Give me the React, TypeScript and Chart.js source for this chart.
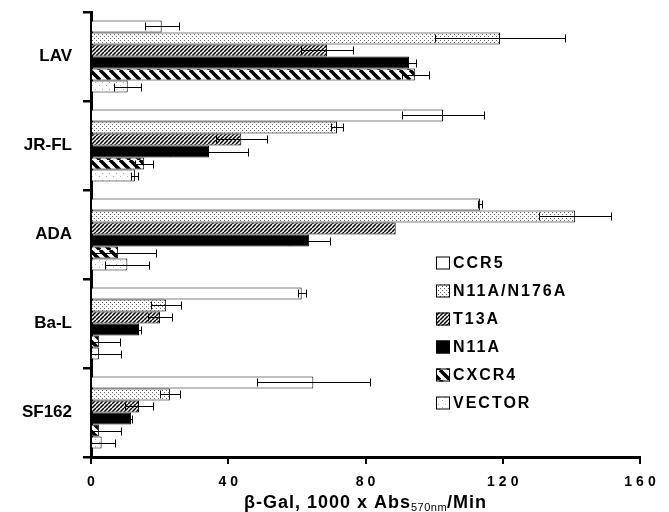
import React, { useEffect, useRef } from "react";
import { Chart, registerables } from "chart.js";

Chart.register(...registerables);

// ---- data ----
const categories = ["LAV", "JR-FL", "ADA", "Ba-L", "SF162"];
const seriesNames = ["CCR5", "N11A/N176A", "T13A", "N11A", "CXCR4", "VECTOR"];

const ccr5 = [20.6, 102.6, 113.4, 61.4, 64.8];
const ccr5Err = [5.0, 12.0, 0.5, 1.2, 16.4];
const n11aN176a = [119.2, 71.7, 141.1, 21.9, 23.0];
const n11aN176aErr = [19.0, 1.8, 10.4, 4.4, 2.8];
const t13a = [68.8, 43.8, 88.8, 20.1, 14.0];
const t13aErr = [7.6, 7.4, 0, 3.4, 4.0];
const n11a = [92.7, 34.4, 63.6, 14.0, 11.7];
const n11aErr = [2.0, 11.4, 6.0, 0.5, 0.3];
const cxcr4 = [94.5, 15.5, 7.9, 2.3, 2.3];
const cxcr4Err = [4.0, 2.6, 11.0, 6.2, 6.5];
const vector = [10.7, 12.8, 10.6, 2.3, 3.1];
const vectorErr = [3.9, 1.0, 6.4, 6.4, 4.0];

const xTicks = [0, 40, 80, 120, 160];
const xTitleMain = "β-Gal, 1000 x Abs";
const xTitleSub = "570nm";
const xTitleEnd = "/Min";

const seriesValues = [ccr5, n11aN176a, t13a, n11a, cxcr4, vector];
const seriesErrors = [ccr5Err, n11aN176aErr, t13aErr, n11aErr, cxcr4Err, vectorErr];

const FONT = '"Liberation Sans", Arial, Helvetica, sans-serif';

function makePattern(kind: string): CanvasPattern | string {
  if (kind === "black") return "#000";
  if (kind === "white") return "#fff";
  const c = document.createElement("canvas");
  const ctx = c.getContext("2d")!;
  if (kind === "dots") {
    c.width = 4; c.height = 4;
    ctx.fillStyle = "#fff"; ctx.fillRect(0, 0, 4, 4);
    ctx.fillStyle = "#6a6a6a";
    ctx.fillRect(0, 0, 1, 1);
    ctx.fillRect(2, 2, 1, 1);
  } else if (kind === "sparse") {
    c.width = 7; c.height = 7;
    ctx.fillStyle = "#fff"; ctx.fillRect(0, 0, 7, 7);
    ctx.fillStyle = "#b0b0b0";
    ctx.fillRect(1, 1, 1, 1);
    ctx.fillRect(4, 5, 1, 1);
  } else if (kind === "fwd") {
    const s = 4;
    c.width = s; c.height = s;
    ctx.fillStyle = "#fff"; ctx.fillRect(0, 0, s, s);
    ctx.strokeStyle = "#000"; ctx.lineWidth = 1.5;
    ctx.beginPath();
    for (const k of [-s, 0, s]) { ctx.moveTo(k, s); ctx.lineTo(k + s, 0); }
    ctx.stroke();
  } else if (kind === "back") {
    const s = 10;
    c.width = s; c.height = s;
    ctx.fillStyle = "#fff"; ctx.fillRect(0, 0, s, s);
    ctx.strokeStyle = "#000"; ctx.lineWidth = 3.5;
    ctx.beginPath();
    for (const k of [-s, 0, s]) { ctx.moveTo(k, 0); ctx.lineTo(k + s, s); }
    ctx.stroke();
  }
  return ctx.createPattern(c, "repeat")!;
}

const fillKinds = ["white", "dots", "fwd", "black", "back", "sparse"];

export default function App() {
  const ref = useRef<HTMLCanvasElement>(null);

  useEffect(() => {
    if (!ref.current) return;
    const fills = fillKinds.map((k) => makePattern(k));

    const errorBarPlugin = {
      id: "errorBars",
      afterDatasetsDraw(chart: any) {
        const ctx = chart.ctx;
        const xs = chart.scales.x;
        const area = chart.chartArea;
        ctx.save();
        ctx.beginPath();
        ctx.rect(area.left + 1, area.top - 10, area.right - area.left + 20, area.bottom - area.top + 20);
        ctx.clip();
        ctx.strokeStyle = "#000";
        ctx.lineWidth = 1;
        chart.data.datasets.forEach((ds: any, di: number) => {
          const meta = chart.getDatasetMeta(di);
          const errs = seriesErrors[di];
          meta.data.forEach((bar: any, i: number) => {
            const v = ds.data[i];
            const e = errs[i];
            if (!e) return;
            const x1 = Math.round(xs.getPixelForValue(v - e)) + 0.5;
            const x2 = Math.round(xs.getPixelForValue(v + e)) + 0.5;
            const y = Math.round(bar.y) + 0.5;
            ctx.beginPath();
            ctx.moveTo(x1, y); ctx.lineTo(x2, y);
            ctx.moveTo(x1, y - 4); ctx.lineTo(x1, y + 4);
            ctx.moveTo(x2, y - 4); ctx.lineTo(x2, y + 4);
            ctx.stroke();
          });
        });
        ctx.restore();
      },
    };

    const decorPlugin = {
      id: "decor",
      afterDraw(chart: any) {
        const ctx = chart.ctx;
        const xs = chart.scales.x;
        const area = chart.chartArea;
        ctx.save();
        ctx.fillStyle = "#000";
        // x tick labels
        ctx.font = `bold 14px ${FONT}`;
        (ctx as any).letterSpacing = "4px";
        ctx.textBaseline = "alphabetic";
        ctx.textAlign = "left";
        xTicks.forEach((t) => {
          const label = String(t);
          const w = ctx.measureText(label).width - 4;
          const px = xs.getPixelForValue(t);
          ctx.fillText(label, px - w / 2, area.bottom + 29);
        });
        // x title with subscript
        ctx.font = `bold 18px ${FONT}`;
        (ctx as any).letterSpacing = "1px";
        const w1 = ctx.measureText(xTitleMain).width;
        const w3 = ctx.measureText(xTitleEnd).width;
        ctx.font = `11px ${FONT}`;
        (ctx as any).letterSpacing = "0.5px";
        const w2 = ctx.measureText(xTitleSub).width;
        const total = w1 + w2 + w3;
        let x = (area.left + area.right) / 2 - total / 2;
        const base = area.bottom + 51;
        ctx.font = `bold 18px ${FONT}`;
        (ctx as any).letterSpacing = "1px";
        ctx.fillText(xTitleMain, x, base);
        x += w1;
        ctx.font = `11px ${FONT}`;
        (ctx as any).letterSpacing = "0.5px";
        ctx.fillText(xTitleSub, x, base + 3);
        x += w2;
        ctx.font = `bold 18px ${FONT}`;
        (ctx as any).letterSpacing = "1px";
        ctx.fillText(xTitleEnd, x, base);

        // legend
        const lx = 436;
        const ly0 = 263;
        const step = 28;
        ctx.font = `bold 16px ${FONT}`;
        (ctx as any).letterSpacing = "2px";
        ctx.textBaseline = "middle";
        seriesNames.forEach((name, i) => {
          const y = ly0 + i * step;
          ctx.fillStyle = fills[i] as any;
          ctx.fillRect(lx, y - 6.5, 14, 13);
          ctx.strokeStyle = "#000";
          ctx.lineWidth = 1;
          ctx.strokeRect(lx + 0.5, y - 6, 13, 12);
          ctx.fillStyle = "#000";
          ctx.fillText(name, lx + 17, y + 1);
        });
        ctx.restore();
      },
    };

    const chart = new Chart(ref.current, {
      type: "bar",
      data: {
        labels: categories,
        datasets: seriesNames.map((name, i) => ({
          label: name,
          data: seriesValues[i],
          backgroundColor: fills[i] as any,
          borderColor: "#000",
          borderWidth: 1,
          categoryPercentage: 0.81,
          barPercentage: 1.0,
        })),
      },
      options: {
        indexAxis: "y",
        responsive: false,
        animation: false,
        layout: { padding: { top: 12, right: 29, left: 0, bottom: 0 } },
        plugins: {
          legend: { display: false },
          tooltip: { enabled: false },
          title: { display: false },
        },
        scales: {
          x: {
            type: "linear",
            min: 0,
            max: 160,
            ticks: { display: false, stepSize: 40 },
            grid: { drawOnChartArea: false, drawTicks: true, tickLength: 7, color: "#000", lineWidth: 2 },
            border: { color: "#000", width: 3 },
            afterFit: (s: any) => {
              s.height = 55;
              s.paddingLeft = 0; s.paddingRight = 0; s.paddingTop = 0; s.paddingBottom = 0;
            },
          },
          y: {
            type: "category",
            ticks: { color: "#000", font: { family: FONT, size: 17, weight: "bold" }, padding: 11 },
            grid: { drawOnChartArea: false, tickLength: 8, color: "#000", lineWidth: 2.5, offset: true },
            border: { color: "#000", width: 3 },
            afterFit: (s: any) => {
              s.width = 91;
              s.paddingLeft = 0; s.paddingRight = 0; s.paddingTop = 0; s.paddingBottom = 0;
            },
          },
        },
      } as any,
      plugins: [errorBarPlugin, decorPlugin],
    });
    return () => chart.destroy();
  }, []);

  return (
    <div style={{ position: "absolute", left: 0, top: 0, width: 669, height: 512, background: "#fff" }}>
      <canvas ref={ref} width={669} height={512} style={{ display: "block" }} />
    </div>
  );
}
